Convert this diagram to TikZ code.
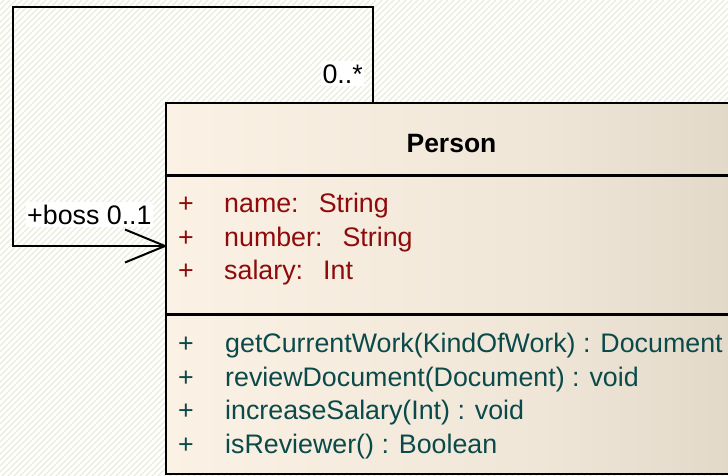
\documentclass[tikz,border=0pt]{standalone}
\usepackage{fontspec}
\setmainfont{Liberation Sans}
\definecolor{hatchcol}{HTML}{E9EBDC}
\definecolor{attrred}{HTML}{8E0B0B}
\definecolor{opteal}{HTML}{0A4A4A}
\definecolor{boxA}{HTML}{FBF1E4}
\definecolor{boxB}{HTML}{F0E6D8}
\definecolor{boxC}{HTML}{E1D8C8}
\pgfdeclarehorizontalshading{classfill}{100bp}{color(0bp)=(boxA); color(25bp)=(boxA); color(57.6bp)=(boxB); color(75bp)=(boxC); color(100bp)=(boxC)}
\tikzset{
  hatch/.style={draw=hatchcol, line width=1.3pt},
  assoc/.style={draw=black, line width=2pt},
  rolelabel/.style={fill=white, inner xsep=1.5pt, inner ysep=3pt, font=\fontsize{26.8}{30}\selectfont},
  classbox/.style={draw=black, line width=2.2pt, shading=classfill, inner sep=0pt},
  compline/.style={draw=black, line width=2.2pt},
  member/.style={anchor=base west, inner sep=0pt, font=\fontsize{26.8}{30}\selectfont},
  attr/.style={member, text=attrred},
  oper/.style={member, text=opteal},
  classname/.style={anchor=base, inner sep=0pt, font=\fontsize{26.5}{30}\selectfont\bfseries}
}
\begin{document}
\begin{tikzpicture}[x=1pt, y=-1pt]
  \clip (0,0) rectangle (728,475);
  \fill[white] (0,0) rectangle (728,475);
  % diagonal hatching of the canvas
  \foreach \i in {-480,-474,...,730}
    \draw[hatch] (\i,478) -- (\i+478,0);

  % class box
  \node[classbox, anchor=north west, minimum width=577pt, minimum height=371pt] (person) at (165,102) {};
  \draw[compline] (165,175.5) -- (742,175.5);
  \draw[compline] (165,314.5) -- (742,314.5);

  % self association
  \coordinate (assocTop) at (373,102);
  \coordinate (bossEnd) at (165,246);
  \draw[assoc] (assocTop) |- (13,6.5) |- (bossEnd);
  \draw[assoc] (bossEnd) -- ++(-40,-16.5) (bossEnd) -- ++(-40,16.5);
  \node[rolelabel, anchor=base east] (mult) at (364.5,83) {0..*};
  \node[rolelabel, anchor=base west] (boss) at (25.5,224) {+boss 0..1};

  % class name
  \node[classname] (cname) at (451.5,152.5) {Person};

  % attributes
  \node[attr] (a1p) at (178,212) {+};
  \node[attr] (a1) at (224,212) {name:\hspace{0.75em}String};
  \node[attr] (a2p) at (178,246) {+};
  \node[attr] (a2) at (224,246) {number:\hspace{0.75em}String};
  \node[attr] (a3p) at (178,279) {+};
  \node[attr] (a3) at (224,279) {salary:\hspace{0.75em}Int};

  % operations
  \node[oper] (o1p) at (178,352.5) {+};
  \node[oper] (o1) at (225,352.5) {getCurrentWork(KindOfWork) : Document};
  \node[oper] (o2p) at (178,386) {+};
  \node[oper] (o2) at (225,386) {reviewDocument(Document) : void};
  \node[oper] (o3p) at (178,419) {+};
  \node[oper] (o3) at (225,419) {increaseSalary(Int) : void};
  \node[oper] (o4p) at (178,453) {+};
  \node[oper] (o4) at (225,453) {isReviewer() : Boolean};
\end{tikzpicture}
\end{document}
